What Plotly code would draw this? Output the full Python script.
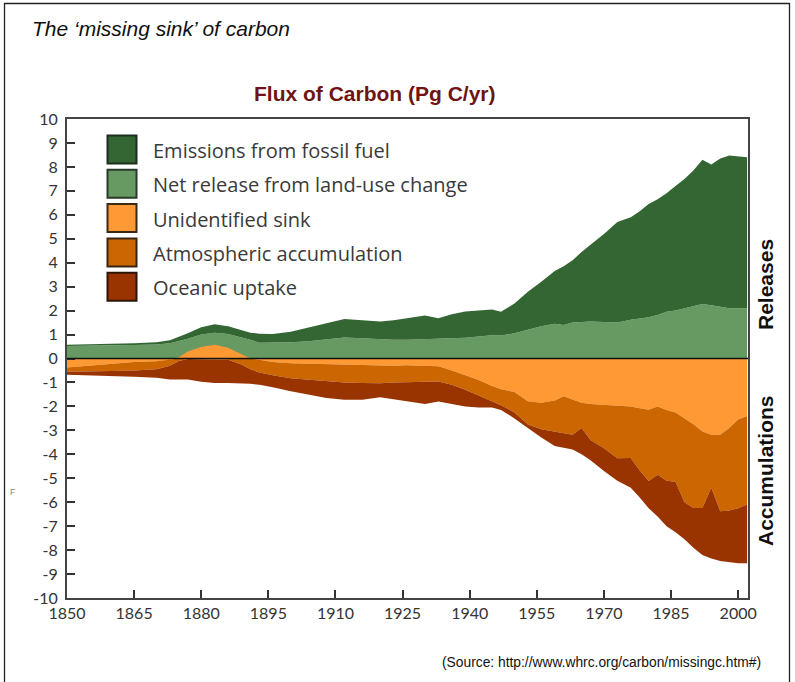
import plotly.graph_objects as go

# ---------------- data (Pg C / yr) ----------------
years = [1850, 1855, 1860, 1865, 1870, 1873, 1875, 1877, 1880, 1883, 1886, 1889, 1891, 1893,
         1896, 1900, 1904, 1908, 1912, 1916, 1920, 1923, 1926, 1930, 1933, 1936, 1939, 1942,
         1945, 1947, 1950, 1953, 1956, 1959, 1961, 1963, 1965, 1967, 1970, 1973, 1976, 1978,
         1980, 1982, 1984, 1986, 1988, 1990, 1992, 1994, 1996, 1998, 2000, 2002]

# releases
land_use = [0.52, 0.52, 0.55, 0.56, 0.58, 0.64, 0.72, 0.82, 1.00, 1.08, 1.02, 0.88, 0.78, 0.66,
            0.66, 0.68, 0.72, 0.80, 0.88, 0.85, 0.80, 0.78, 0.78, 0.80, 0.81, 0.84, 0.87, 0.92,
            0.97, 0.96, 1.05, 1.20, 1.35, 1.45, 1.40, 1.50, 1.52, 1.55, 1.52, 1.50, 1.62, 1.68,
            1.72, 1.82, 1.95, 2.00, 2.10, 2.20, 2.28, 2.22, 2.15, 2.10, 2.10, 2.10]
fossil = [0.05, 0.06, 0.07, 0.08, 0.10, 0.12, 0.18, 0.23, 0.30, 0.35, 0.33, 0.30, 0.30, 0.37,
          0.36, 0.44, 0.58, 0.70, 0.77, 0.75, 0.75, 0.82, 0.90, 1.00, 0.87, 1.01, 1.09, 1.08,
          1.08, 0.99, 1.25, 1.59, 1.85, 2.20, 2.45, 2.60, 2.93, 3.20, 3.68, 4.20, 4.28, 4.47,
          4.73, 4.83, 4.95, 5.20, 5.40, 5.65, 6.02, 5.88, 6.20, 6.38, 6.35, 6.30]

# accumulations (positive = uptake; negative unidentified = net source)
unidentified = [0.38, 0.30, 0.22, 0.15, 0.12, 0.06, -0.05, -0.29, -0.48, -0.57, -0.45, -0.20, 0.00, 0.05,
                0.15, 0.20, 0.22, 0.25, 0.27, 0.28, 0.30, 0.30, 0.28, 0.30, 0.32, 0.50, 0.70, 0.90,
                1.15, 1.28, 1.40, 1.79, 1.85, 1.75, 1.58, 1.70, 1.85, 1.90, 1.93, 1.97, 2.00, 2.08,
                2.14, 2.00, 2.15, 2.25, 2.50, 2.75, 3.05, 3.18, 3.18, 2.90, 2.55, 2.40]
atmospheric = [0.17, 0.25, 0.30, 0.35, 0.33, 0.24, 0.10, 0.02, 0.02, 0.02, 0.05, 0.25, 0.45, 0.53,
               0.55, 0.62, 0.66, 0.68, 0.73, 0.74, 0.73, 0.70, 0.70, 0.65, 0.64, 0.60, 0.60, 0.65,
               0.65, 0.67, 0.85, 0.97, 1.10, 1.30, 1.53, 1.48, 1.05, 1.50, 1.82, 2.20, 2.15, 2.60,
               2.98, 2.85, 2.95, 2.90, 3.50, 3.49, 3.19, 2.22, 3.20, 3.45, 3.70, 3.70]
oceanic = [0.13, 0.15, 0.22, 0.26, 0.35, 0.58, 0.78, 0.86, 0.95, 1.00, 0.97, 0.79, 0.60, 0.52,
           0.50, 0.55, 0.62, 0.72, 0.72, 0.70, 0.59, 0.70, 0.80, 0.95, 0.84, 0.80, 0.70, 0.50,
           0.25, 0.20, 0.25, 0.14, 0.35, 0.60, 0.63, 0.62, 1.10, 0.85, 0.95, 0.93, 1.25, 1.12,
           1.13, 1.75, 1.90, 2.10, 1.55, 1.66, 1.96, 2.95, 2.07, 2.15, 2.30, 2.45]

names = ["Emissions from fossil fuel", "Net release from land-use change", "Unidentified sink",
         "Atmospheric accumulation", "Oceanic uptake"]
colors = ["#336633", "#679A62", "#FF9933", "#CC6600", "#993300"]
outline = ["#1c2e1c", "#2a3a2a", "#3a2a14", "#3a2410", "#2e1408"]
x_ticks = [1850, 1865, 1880, 1895, 1910, 1925, 1940, 1955, 1970, 1985, 2000]
y_ticks = list(range(-10, 11))

# ---------------- derived stack boundaries ----------------
zero = [0.0] * len(years)
land_top = land_use[:]
total_top = [a + b for a, b in zip(land_use, fossil)]
unid_edge = [-u for u in unidentified]
atm_top = [min(0.0, -u) for u in unidentified]
atm_bot = [t - a for t, a in zip(atm_top, atmospheric)]
oce_bot = [b - o for b, o in zip(atm_bot, oceanic)]

fig = go.Figure()


def base(y):
    fig.add_trace(go.Scatter(x=years, y=y, mode="lines", line=dict(width=0),
                             hoverinfo="skip", showlegend=False))


def band(y, color, name):
    fig.add_trace(go.Scatter(x=years, y=y, mode="lines", line=dict(width=0),
                             fill="tonexty", fillcolor=color, name=name, showlegend=False))


base(zero)
band(land_top, colors[1], names[1])
band(total_top, colors[0], names[0])
base(zero)
band(unid_edge, colors[2], names[2])
base(atm_top)
band(atm_bot, colors[3], names[3])
band(oce_bot, colors[4], names[4])

# ---------------- layout geometry (pixels) ----------------
L, R, T, B = 67, 748, 119, 598
W, H = R - L, B - T


def px(x):
    return (x - L) / W


def py(y):
    return (B - y) / H


shapes = []
annotations = []

# zero line above the fills
shapes.append(dict(type="line", xref="paper", yref="y", x0=0, x1=1, y0=0, y1=0,
                   line=dict(color="#111111", width=1.3), layer="above"))
# outer frame
shapes.append(dict(type="rect", xref="paper", yref="paper", x0=px(4.5), x1=px(789.5),
                   y0=py(690), y1=py(3.5), line=dict(color="#222222", width=1.3), layer="above"))

# manual legend
tick_font = "Lato, 'Open Sans', sans-serif"
leg_font = "'Open Sans', sans-serif"
for i, (nm, col, oc) in enumerate(zip(names, colors, outline)):
    cy = 149.5 + i * 34.3
    shapes.append(dict(type="rect", xref="paper", yref="paper",
                       x0=px(107.5), x1=px(136.5), y0=py(cy + 14), y1=py(cy - 14),
                       fillcolor=col, line=dict(color=oc, width=2), layer="above"))
    annotations.append(dict(xref="paper", yref="paper", x=px(151), y=py(cy + 1), text=nm,
                            showarrow=False, xanchor="left", yanchor="middle",
                            font=dict(family=leg_font, size=20, color="#3a3a3a")))

annotations += [
    dict(xref="paper", yref="paper", x=px(30), y=py(29), text="<i>The \u2018missing sink\u2019 of carbon</i>",
         showarrow=False, xanchor="left", yanchor="middle",
         font=dict(family="Liberation Sans, Arial, sans-serif", size=21, color="#111111")),
    dict(xref="paper", yref="paper", x=px(375), y=py(94), text="<b>Flux of Carbon (Pg C/yr)</b>",
         showarrow=False, xanchor="center", yanchor="middle",
         font=dict(family="Liberation Sans, Arial, sans-serif", size=21, color="#6E1414")),
    dict(xref="paper", yref="paper", x=px(765), y=py(285), text="<b>Releases</b>", textangle=-90,
         showarrow=False, xanchor="center", yanchor="middle",
         font=dict(family="Liberation Sans, Arial, sans-serif", size=21, color="#111111")),
    dict(xref="paper", yref="paper", x=px(765), y=py(471), text="<b>Accumulations</b>", textangle=-90,
         showarrow=False, xanchor="center", yanchor="middle",
         font=dict(family="Liberation Sans, Arial, sans-serif", size=21, color="#111111")),
    dict(xref="paper", yref="paper", x=px(440), y=py(662),
         text="(Source: http://www.whrc.org/carbon/missingc.htm#)",
         showarrow=False, xanchor="left", yanchor="middle",
         font=dict(family="Liberation Sans, Arial, sans-serif", size=13.8, color="#111111")),
    dict(xref="paper", yref="paper", x=px(13), y=py(492), text="F",
         showarrow=False, xanchor="center", yanchor="middle",
         font=dict(family="Liberation Sans, Arial, sans-serif", size=9, color="#888888")),
]

fig.update_layout(
    width=795, height=682,
    margin=dict(l=L, r=795 - R, t=T, b=682 - B, pad=0),
    paper_bgcolor="white", plot_bgcolor="white",
    showlegend=False,
    shapes=shapes, annotations=annotations,
    xaxis=dict(range=[1850, 2002.2], tickmode="array", tickvals=x_ticks,
               ticktext=[str(v) for v in x_ticks], ticks="inside", ticklen=8, tickwidth=1.5,
               tickcolor="#333333", showline=True, linecolor="#444444", linewidth=2, mirror=True,
               showgrid=False, zeroline=False,
               tickfont=dict(family=tick_font, size=16, color="#333333")),
    yaxis=dict(range=[-10, 10], tickmode="array", tickvals=y_ticks,
               ticktext=[str(v) for v in y_ticks], ticks="inside", ticklen=8, tickwidth=1.5,
               tickcolor="#333333", showline=True, linecolor="#444444", linewidth=2, mirror=True,
               showgrid=False, zeroline=False, ticklabelstandoff=4,
               tickfont=dict(family=tick_font, size=16, color="#333333")),
)

fig.write_html("out.html", config={"displayModeBar": False},
               post_script="document.body.style.margin='0px';document.body.style.overflow='hidden';")
